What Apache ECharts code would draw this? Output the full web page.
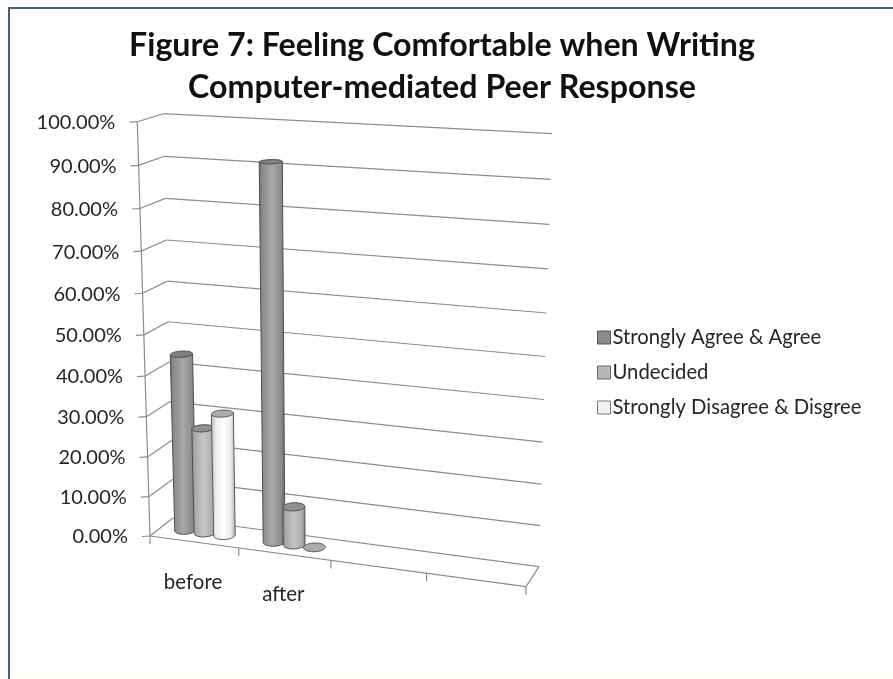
<!DOCTYPE html>
<html>
<head>
<meta charset="utf-8">
<style>html,body{margin:0;padding:0;background:#fff}#c{width:893px;height:679px}</style>
<script src="https://cdn.jsdelivr.net/npm/echarts@6/dist/echarts.min.js"></script>
</head>
<body>
<div id="c"></div>
<script>
// Chart content
const categories = ['before', 'after', '', ''];
const agree = [44.2, 91.4];
const undecided = [26.4, 9.5];
const disagree = [30.6, 0];
const valueTicks = [0, 10, 20, 30, 40, 50, 60, 70, 80, 90, 100];
const titleText = 'Figure 7: Feeling Comfortable when Writing\nComputer-mediated Peer Response';

const FONT = 'Lato, Carlito, sans-serif';
const GRID = { left: 150, top: 122, width: 376, height: 414 };

// Corners of the floor and ceiling of the 3D box as seen by the camera,
// listed front-left, front-right, back-right, back-left.
const FLOOR = [[150, 536], [526, 586.7], [539, 566.7], [173, 518]];
const CEIL = [[137.3, 121.7], [540, 144], [552, 133.7], [163.3, 113.7]];
const VERTICAL_PERSPECTIVE = 1.06;
const HORIZONTAL_PERSPECTIVE = 1.045;

function squareToQuad(q) {
  const [[x0, y0], [x1, y1], [x2, y2], [x3, y3]] = q;
  const dx1 = x1 - x2, dx2 = x3 - x2, sx = x0 - x1 + x2 - x3;
  const dy1 = y1 - y2, dy2 = y3 - y2, sy = y0 - y1 + y2 - y3;
  const det = dx1 * dy2 - dx2 * dy1;
  const g = (sx * dy2 - dx2 * sy) / det;
  const h = (dx1 * sy - sx * dy1) / det;
  const a = x1 - x0 + g * x1, b = x3 - x0 + h * x3, c = x0;
  const d = y1 - y0 + g * y1, e = y3 - y0 + h * y3, f = y0;
  return (u, v) => {
    const w = g * u + h * v + 1;
    return [(a * u + b * v + c) / w, (d * u + e * v + f) / w];
  };
}
const floorMap = squareToQuad(FLOOR);
const rise = CEIL.map((c, i) => [c[0] - FLOOR[i][0], c[1] - FLOOR[i][1]]);

// u: along the category axis, d: depth, v: height, all in 0..1
function project(u, d, v) {
  const t = v / (v + (1 - v) * VERTICAL_PERSPECTIVE);
  const uw = u / (u + (1 - u) * HORIZONTAL_PERSPECTIVE);
  const p = floorMap(uw, d);
  const r = [0, 1].map(k =>
    (rise[0][k] * (1 - uw) + rise[1][k] * uw) * (1 - d) + (rise[3][k] * (1 - uw) + rise[2][k] * uw) * d);
  return [p[0] + r[0] * t, p[1] + r[1] * t];
}
// Flat grid pixel -> unit position on the box
const unitX = px => (px - GRID.left) / GRID.width;
const unitY = py => (GRID.top + GRID.height - py) / GRID.height;

const lineStyle = { stroke: '#8c8c8c', lineWidth: 1.2, fill: null };
const seg = (a, b) => ({ type: 'line', shape: { x1: a[0], y1: a[1], x2: b[0], y2: b[1] }, style: lineStyle, silent: true });

function renderValueTick(params, api) {
  const tick = api.value(0);
  const v = unitY(api.coord([0, tick])[1]);
  const front = project(0, 0, v), back = project(0, 1, v), right = project(1, 1, v);
  const children = [
    seg([front[0] - 8, front[1] + 0.5], front),
    seg(front, back),
    seg(back, right),
    {
      type: 'text', silent: true,
      style: {
        x: front[0] - 22, y: front[1] + 1, text: tick.toFixed(2) + '%', align: 'right', verticalAlign: 'middle',
        font: '20px ' + FONT, fill: '#262626'
      }
    }
  ];
  if (tick === 0) {
    children.push(seg(front, project(1, 0, 0)), seg(project(1, 0, 0), project(1, 1, 0)));
    children.push(seg(project(0, 0, 0), project(0, 0, 1)));
  }
  return { type: 'group', children };
}

function renderCategoryTick(params, api) {
  const i = api.value(0);
  const band = api.size([1, 0])[0];
  const cx = api.coord([i, 0])[0];
  const edge = project(unitX(cx - band / 2), 0, 0);
  const children = [seg(edge, [edge[0], edge[1] + 8])];
  if (i === categories.length - 1) {
    const end = project(unitX(cx + band / 2), 0, 0);
    children.push(seg(end, [end[0], end[1] + 8]));
  }
  const mid = project(unitX(cx), 0, 0);
  if (categories[i]) {
    children.push({
      type: 'text', silent: true,
      style: { x: mid[0] - 1, y: mid[1] + 40, text: categories[i], align: 'center', verticalAlign: 'middle', font: '20.5px ' + FONT, fill: '#262626' }
    });
  }
  return { type: 'group', children };
}

// Cylinder drawn through the box projection
const R_U = 0.0275, R_D = 0.22, DEPTH = 0.5, STEP = 0.222, BAND_SHIFT = -0.002;
function ring(cu, v) {
  const pts = [];
  for (let k = 0; k < 48; k++) {
    const a = k / 48 * Math.PI * 2;
    pts.push(project(cu + Math.cos(a) * R_U, DEPTH + Math.sin(a) * R_D, v));
  }
  return pts;
}
function extremes(pts) {
  let l = 0, r = 0;
  pts.forEach((p, i) => { if (p[0] < pts[l][0]) l = i; if (p[0] > pts[r][0]) r = i; });
  return [l, r];
}
function makeRenderCylinder(slot, stops, capFill, edge) {
  return function (params, api) {
    const cat = api.value(0), val = api.value(1);
    const band = api.size([1, 0])[0];
    const cx = api.coord([cat, 0])[0] + (slot * STEP + BAND_SHIFT) * band;
    const cu = unitX(cx);
    const top = unitY(api.coord([cat, val])[1]);
    const bottomRing = ring(cu, 0), topRing = ring(cu, top);
    const capShape = { type: 'polygon', shape: { points: topRing }, style: { fill: capFill, stroke: edge, lineWidth: 1 }, silent: true };
    if (val <= 0) return capShape;
    const [bl, br] = extremes(bottomRing);
    const [tl, tr] = extremes(topRing);
    const body = [topRing[tl], topRing[tr]];
    // front half of the base, walking from the right extreme to the left extreme
    let k = br;
    while (k !== bl) { body.push(bottomRing[k]); k = (k - 1 + 48) % 48; }
    body.push(bottomRing[bl]);
    return {
      type: 'group', children: [
        {
          type: 'polygon', shape: { points: body }, silent: true,
          style: { fill: new echarts.graphic.LinearGradient(0, 0, 1, 0, stops), stroke: edge, lineWidth: 1 }
        },
        capShape
      ]
    };
  };
}
const asStops = list => list.map(s => ({ offset: s[0], color: s[1] }));
const dark = asStops([[0, '#666666'], [0.12, '#8a8a8a'], [0.5, '#a8a8a8'], [0.85, '#8a8a8a'], [1, '#626262']]);
const mid = asStops([[0, '#858585'], [0.14, '#a8a8a8'], [0.5, '#c6c6c6'], [0.85, '#acacac'], [1, '#808080']]);
const light = asStops([[0, '#b5b5b5'], [0.2, '#ececec'], [0.5, '#ffffff'], [0.8, '#eeeeee'], [1, '#a8a8a8']]);

const toPairs = arr => arr.map((v, i) => [i, v]);
const tickRows = valueTicks.map(t => [t]);
const catRows = categories.map((c, i) => [i]);

const chart = echarts.init(document.getElementById('c'), null, { renderer: 'canvas' });
chart.setOption({
  animation: false,
  backgroundColor: '#ffffff',
  tooltip: { show: false },
  graphic: [{
    type: 'rect', z: -10, silent: true,
    shape: { x: 9, y: 8, width: 900, height: 690 },
    style: {
      fill: new echarts.graphic.LinearGradient(0, 0, 0, 1, [
        { offset: 0, color: '#fffffb' }, { offset: 0.03, color: '#ffffff' },
        { offset: 0.95, color: '#ffffff' }, { offset: 0.96, color: '#fffff7' }
      ]),
      stroke: '#3f617f', lineWidth: 2
    }
  }],
  title: {
    text: titleText, left: 437, top: 20, textAlign: 'center',
    textStyle: { fontFamily: FONT, fontWeight: 'bold', fontSize: 32.2, lineHeight: 42, color: '#111111' }
  },
  legend: {
    orient: 'vertical', left: 592, top: 321, itemWidth: 13, itemHeight: 13, itemGap: 12,
    selectedMode: false, icon: 'rect',
    textStyle: { fontFamily: FONT, fontSize: 20.3, color: '#262626', padding: [0, 0, 0, -3], lineHeight: 23 },
    data: [
      { name: 'Strongly Agree & Agree', itemStyle: { color: '#8c8c8c', borderColor: '#555', borderWidth: 1 } },
      { name: 'Undecided', itemStyle: { color: '#b8b8b8', borderColor: '#666', borderWidth: 1 } },
      { name: 'Strongly Disagree & Disgree', itemStyle: { color: '#f2f2f2', borderColor: '#777', borderWidth: 1 } }
    ]
  },
  grid: { left: GRID.left, top: GRID.top, width: GRID.width, height: GRID.height },
  xAxis: { type: 'category', data: categories, show: false },
  yAxis: { type: 'value', min: 0, max: 100, interval: 10, show: false },
  series: [
    { type: 'custom', name: 'value ticks', data: tickRows, renderItem: renderValueTick, z: 1, clip: false },
    { type: 'custom', name: 'category ticks', data: catRows, renderItem: renderCategoryTick, z: 1, clip: false },
    { type: 'custom', name: 'Strongly Agree & Agree', data: toPairs(agree), renderItem: makeRenderCylinder(-1, dark, '#7f7f7f', '#505050'), z: 2, clip: false },
    { type: 'custom', name: 'Undecided', data: toPairs(undecided), renderItem: makeRenderCylinder(0, mid, '#8f8f8f', '#505050'), z: 3, clip: false },
    { type: 'custom', name: 'Strongly Disagree & Disgree', data: toPairs(disagree), renderItem: makeRenderCylinder(1, light, '#ababab', '#5a5a5a'), z: 4, clip: false }
  ]
});
</script>
</body>
</html>
